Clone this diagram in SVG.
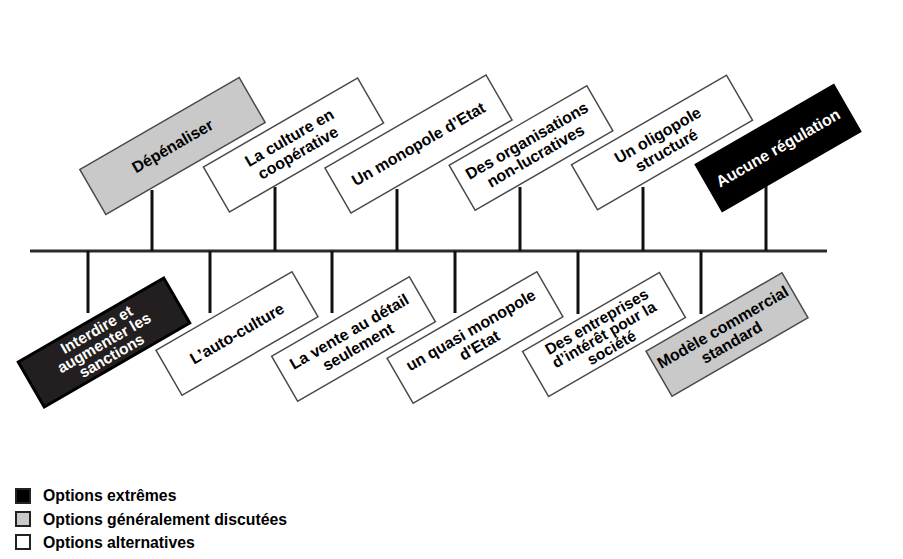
<svg xmlns="http://www.w3.org/2000/svg" width="903" height="559" viewBox="0 0 903 559">
<style>
.box{stroke:#4a4a4a;stroke-width:1.5}
.w{fill:#ffffff}
.g{fill:#c9c9c9}
.k{fill:#000000;stroke:#000}
.d{fill:#231f20;stroke:#000;stroke-width:3}
.t{font-family:"Liberation Sans",Arial,sans-serif;font-weight:bold;font-size:16px;text-anchor:middle;fill:#000}
.t3{font-size:15.5px}
.tw{fill:#ffffff}
.stem{stroke:#111;stroke-width:3;fill:none}
.spine{stroke:#2a2a2a;stroke-width:3;fill:none}
.lg{font-family:"Liberation Sans",Arial,sans-serif;font-weight:bold;font-size:15.8px;fill:#000}
</style>
<rect width="903" height="559" fill="#ffffff"/>
<g id="connectors">
<line class="spine" x1="30" y1="251" x2="827" y2="251"/>
<line class="stem" x1="152" y1="251" x2="152" y2="190"/>
<line class="stem" x1="275" y1="251" x2="275" y2="187"/>
<line class="stem" x1="397" y1="251" x2="397" y2="189"/>
<line class="stem" x1="520" y1="251" x2="520" y2="187"/>
<line class="stem" x1="643" y1="251" x2="643" y2="187"/>
<line class="stem" x1="766" y1="251" x2="766" y2="186"/>
<line class="stem" x1="88" y1="251" x2="88" y2="313"/>
<line class="stem" x1="210" y1="251" x2="210" y2="313"/>
<line class="stem" x1="332" y1="251" x2="332" y2="313"/>
<line class="stem" x1="455" y1="251" x2="455" y2="313"/>
<line class="stem" x1="578" y1="251" x2="578" y2="314"/>
<line class="stem" x1="701" y1="251" x2="701" y2="314"/>
</g>
<g id="depenaliser" transform="translate(172.5,146) rotate(-30)">
<rect class="box g" x="-92" y="-26" width="184" height="52"/>
<text class="t" y="5.5">Dépénaliser</text>
</g>
<g id="culture-cooperative" transform="translate(293.5,145) rotate(-30)">
<rect class="box w" x="-89" y="-26" width="178" height="52"/>
<text class="t" y="-3">La culture en</text>
<text class="t" y="14.5">coopérative</text>
</g>
<g id="monopole-etat" transform="translate(418.5,144) rotate(-30)">
<rect class="box w" x="-93" y="-26" width="186" height="52"/>
<text class="t" y="5.5">Un monopole d’Etat</text>
</g>
<g id="organisations" transform="translate(531,148) rotate(-30)">
<rect class="box w" x="-79.5" y="-26" width="159" height="52"/>
<text class="t" y="-3">Des organisations</text>
<text class="t" y="14.5">non-lucratives</text>
</g>
<g id="oligopole" transform="translate(662,142.5) rotate(-30)">
<rect class="box w" x="-89.5" y="-26" width="179" height="52"/>
<text class="t" y="-3">Un oligopole</text>
<text class="t" y="14.5">structuré</text>
</g>
<g id="aucune-regulation" transform="translate(778,148) rotate(-30)">
<rect class="box k" x="-80" y="-27" width="160" height="54"/>
<text class="t tw" y="5.5">Aucune régulation</text>
</g>
<g id="interdire" transform="translate(104,342.5) rotate(-30)">
<rect class="d" x="-84" y="-26" width="168" height="52"/>
<text class="t t3 tw" y="-9.5">Interdire et</text>
<text class="t t3 tw" y="5.5">augmenter les</text>
<text class="t t3 tw" y="20.5">sanctions</text>
</g>
<g id="auto-culture" transform="translate(237,333.5) rotate(-30)">
<rect class="box w" x="-78.5" y="-26" width="157" height="52"/>
<text class="t" y="5.5">L’auto-culture</text>
</g>
<g id="vente-detail" transform="translate(353.5,339) rotate(-30)">
<rect class="box w" x="-79.5" y="-26" width="159" height="52"/>
<text class="t" y="-3">La vente au détail</text>
<text class="t" y="14.5">seulement</text>
</g>
<g id="quasi-monopole" transform="translate(475,337.5) rotate(-30)">
<rect class="box w" x="-86.5" y="-26" width="173" height="52"/>
<text class="t" y="-3">un quasi monopole</text>
<text class="t" y="14.5">d'Etat</text>
</g>
<g id="entreprises" transform="translate(604,334.5) rotate(-30)">
<rect class="box w" x="-79" y="-26" width="158" height="52"/>
<text class="t t3" y="-9.5">Des entreprises</text>
<text class="t t3" y="5.5">d’intérêt pour la</text>
<text class="t t3" y="20.5">société</text>
</g>
<g id="modele-commercial" transform="translate(727,334.5) rotate(-30)">
<rect class="box g" x="-78.5" y="-26" width="157" height="52"/>
<text class="t" y="-3">Modèle commercial</text>
<text class="t" y="14.5">standard</text>
</g>
<g id="legend">
<rect x="16" y="489" width="14" height="14" fill="#000" stroke="#222" stroke-width="2"/>
<text class="lg" x="43" y="501">Options extrêmes</text>
<rect x="16" y="512" width="14" height="14" fill="#c9c9c9" stroke="#222" stroke-width="2"/>
<text class="lg" x="43" y="525">Options généralement discutées</text>
<rect x="16" y="535" width="14" height="14" fill="#fff" stroke="#222" stroke-width="2"/>
<text class="lg" x="43" y="548">Options alternatives</text>
</g>
</svg>
